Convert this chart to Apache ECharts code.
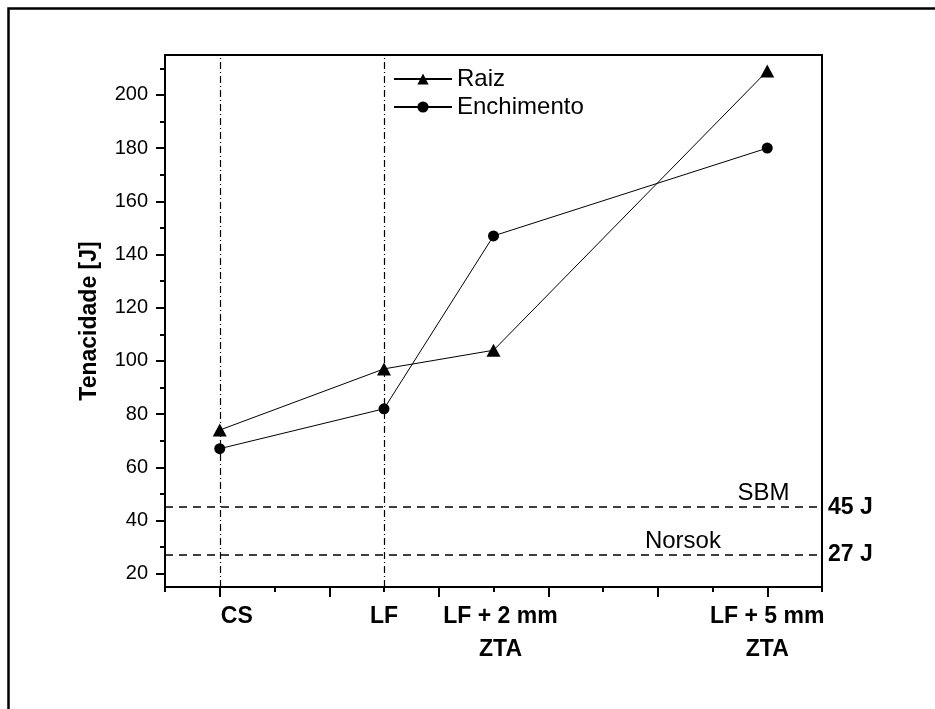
<!DOCTYPE html>
<html><head><meta charset="utf-8">
<script src="https://cdn.jsdelivr.net/npm/echarts@6/dist/echarts.min.js"></script>
<style>html,body{margin:0;padding:0;background:#fff}#c{width:935px;height:709px}</style>
</head><body><div id="c"></div>
<script>
const categories = ['CS', 'LF', 'LF + 2 mm\nZTA', 'LF + 5 mm\nZTA'];
const categoryX = [0, 3, 5, 10];
const raiz = [74, 97, 104, 209];
const enchimento = [67, 82, 147, 180];
const yMajorTicks = [20, 40, 60, 80, 100, 120, 140, 160, 180, 200];
const yMinorTicks = [30, 50, 70, 90, 110, 130, 150, 170, 190, 210];
const xMajorTicks = [0, 2, 4, 6, 8, 10];
const refValues = [45, 27];
const refNames = ['SBM', 'Norsok'];
const refEndLabels = ['45 J', '27 J'];
const refNameX = [9.93, 8.46];
const vLines = [0, 3];

const FONT = 'Liberation Sans, Arial, sans-serif';
const labelShift = [34, 0, 14, 0];
const endLabelPad = [[0, 0, 10, 0], [0, 0, 0, 0]];
const chart = echarts.init(document.getElementById('c'));
const pairs = arr => arr.map((v, i) => [categoryX[i], v]);
const rich = {};
categories.forEach((c, i) => {
  rich['c' + i] = { fontFamily: FONT, fontSize: 23, fontWeight: 'bold', color: '#000', lineHeight: 33, padding: [0, 0, 0, labelShift[i]] };
});

chart.setOption({
  animation: false,
  backgroundColor: '#fff',
  graphic: [{
    type: 'rect', left: 6, top: 6,
    shape: { width: 1000, height: 1000 },
    style: { fill: 'none', stroke: '#000', lineWidth: 2.5 }, silent: true
  }],
  grid: { left: 165, top: 55, right: 113, bottom: 122, show: true, borderColor: '#000', borderWidth: 2, backgroundColor: 'transparent' },
  legend: {
    orient: 'vertical', left: 388, top: 62, itemWidth: 58, itemHeight: 14, itemGap: 4,
    textStyle: { fontFamily: FONT, fontSize: 24, color: '#000' },
    data: ['Raiz', 'Enchimento']
  },
  xAxis: [{
    type: 'value', position: 'bottom', min: -1, max: 11, interval: 1,
    axisLine: { show: true, onZero: false, lineStyle: { color: '#000', width: 2 } },
    axisTick: { show: true, length: 5, lineStyle: { color: '#000', width: 2 } },
    splitLine: { show: false },
    axisLabel: {
      customValues: categoryX, margin: 13, color: '#000', fontFamily: FONT, fontSize: 23, fontWeight: 'bold', lineHeight: 33,
      formatter: v => {
        const i = categoryX.indexOf(v);
        if (i < 0) return '';
        return categories[i].split('\n').map(s => '{c' + i + '|' + s + '}').join('\n');
      },
      rich: rich
    }
  }, {
    type: 'value', position: 'bottom', min: -1, max: 11,
    axisLine: { show: false, onZero: false },
    axisTick: { show: true, length: 10, customValues: xMajorTicks, lineStyle: { color: '#000', width: 2 } },
    splitLine: { show: false }, axisLabel: { show: false }
  }],
  yAxis: [{
    type: 'value', position: 'left', min: 15, max: 215,
    name: 'Tenacidade [J]', nameLocation: 'middle', nameGap: 64,
    nameTextStyle: { fontFamily: FONT, fontSize: 23, fontWeight: 'bold', color: '#000' },
    axisLine: { show: true, onZero: false, lineStyle: { color: '#000', width: 2 } },
    axisTick: { show: true, length: 9, customValues: yMajorTicks, lineStyle: { color: '#000', width: 2 } },
    axisLabel: { customValues: yMajorTicks, margin: 17, color: '#000', fontFamily: FONT, fontSize: 20 },
    splitLine: { show: false }
  }, {
    type: 'value', position: 'left', min: 15, max: 215,
    axisLine: { show: false, onZero: false },
    axisTick: { show: true, length: 5, customValues: yMinorTicks, lineStyle: { color: '#000', width: 2 } },
    axisLabel: { show: false }, splitLine: { show: false }
  }],
  series: [{
    name: 'Raiz', type: 'line', data: pairs(raiz),
    symbol: 'triangle', symbolSize: [14, 13], lineStyle: { color: '#000', width: 1 },
    itemStyle: { color: '#000' }, z: 5,
    markLine: {
      silent: true, symbol: 'none', animation: false,
      lineStyle: { color: '#000', width: 1.2, type: [7, 3, 1, 3] },
      label: { show: false },
      data: vLines.map(v => ({ xAxis: v }))
    }
  }, {
    name: 'Enchimento', type: 'line', data: pairs(enchimento),
    symbol: 'circle', symbolSize: 11, lineStyle: { color: '#000', width: 1 },
    itemStyle: { color: '#000' }, z: 5,
    markLine: {
      silent: true, symbol: 'none', animation: false,
      lineStyle: { color: '#000', width: 1.5, type: [8, 6] },
      label: { show: true, position: 'end', distance: 6, color: '#000', fontFamily: FONT, fontSize: 23, fontWeight: 'bold' },
      data: refValues.map((v, i) => ({ yAxis: v, label: { formatter: refEndLabels[i], padding: endLabelPad[i] } }))
    },
    markPoint: {
      silent: true, symbolSize: 0, animation: false,
      label: { show: true, position: 'top', distance: 2, color: '#000', fontFamily: FONT, fontSize: 24 },
      data: refValues.map((v, i) => ({ coord: [refNameX[i], v], value: refNames[i], label: { formatter: refNames[i] } }))
    }
  }]
});
</script>
</body></html>
